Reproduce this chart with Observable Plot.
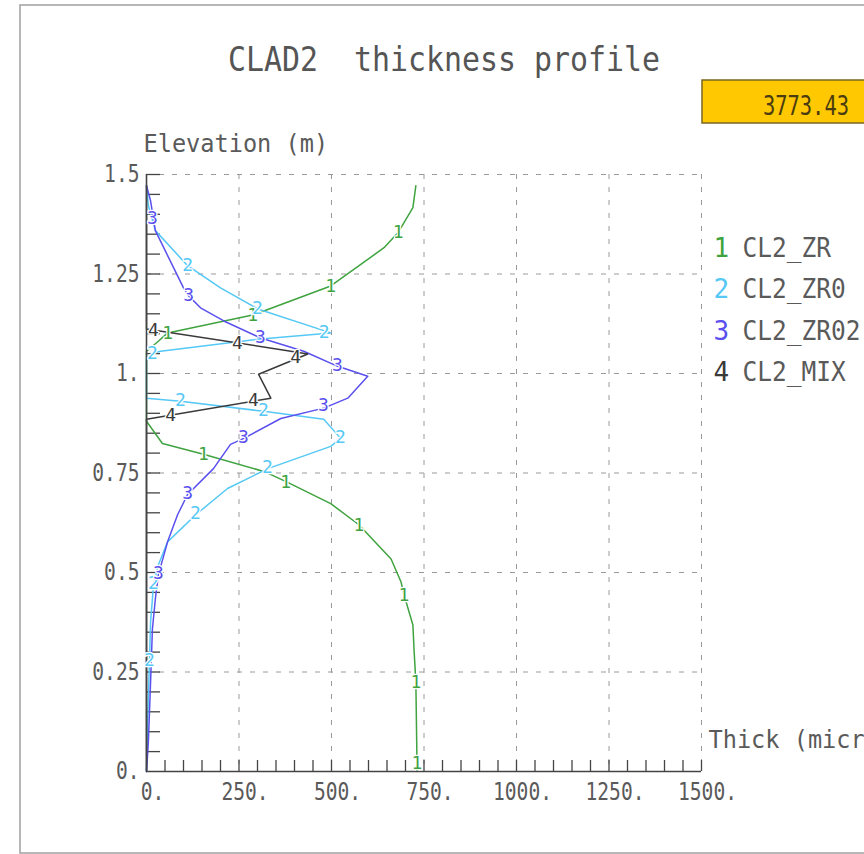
<!DOCTYPE html>
<html>
<head>
<meta charset="utf-8">
<script src="https://cdn.jsdelivr.net/npm/d3@7"></script>
<script src="https://cdn.jsdelivr.net/npm/@observablehq/plot@0.6"></script>
<style>
html, body { margin: 0; padding: 0; overflow: hidden; background: #fff; }
#chart svg { overflow: hidden; display: block; }
</style>
</head>
<body>
<div id="chart"></div>
<script>
// ---------- data ----------
const seriesNames = ["CL2_ZR", "CL2_ZR0", "CL2_ZR02", "CL2_MIX"];
const seriesNums = ["1", "2", "3", "4"];
const seriesColors = ["#3fa33f", "#55c8f5", "#5a50ee", "#3a3a3a"];

// thickness (microns) vs elevation (m)
const zrThick = [728, 720, 680, 642, 498, 317, 287, 57, 32, 0, 0, 43, 154, 317, 376, 498, 574, 661, 688, 696, 720, 723, 728, 731, 731];
const zrElev  = [1.472, 1.417, 1.354, 1.316, 1.220, 1.157, 1.147, 1.102, 1.081, 1.056, 0.880, 0.824, 0.797, 0.754, 0.729, 0.673, 0.620, 0.534, 0.476, 0.444, 0.368, 0.308, 0.224, 0.023, 0.0];

const zr0Thick = [0, 5, 24, 111, 200, 301, 498, 301, 38, 16, 0, 0, 92, 317, 479, 525, 498, 328, 219, 133, 57, 32, 19, 11, 8, 3, 0];
const zr0Elev  = [1.472, 1.422, 1.359, 1.271, 1.215, 1.162, 1.102, 1.086, 1.056, 1.051, 1.036, 0.938, 0.930, 0.905, 0.885, 0.837, 0.817, 0.761, 0.711, 0.645, 0.577, 0.519, 0.469, 0.376, 0.275, 0.124, 0.0];

const zr02Thick = [0, 11, 24, 100, 114, 146, 209, 309, 425, 517, 598, 544, 479, 363, 263, 227, 181, 111, 84, 57, 32, 24, 16, 11, 5, 0];
const zr02Elev  = [1.472, 1.434, 1.359, 1.215, 1.195, 1.165, 1.132, 1.089, 1.056, 1.018, 0.993, 0.938, 0.913, 0.887, 0.837, 0.822, 0.761, 0.696, 0.645, 0.577, 0.494, 0.434, 0.358, 0.224, 0.073, 0.0];

const mixThick = [0, 0, 390, 436, 303, 336, 0, 0];
const mixElev  = [1.472, 1.112, 1.056, 1.049, 0.998, 0.938, 0.885, 0.0];

// curve-number labels along each line
const zrLabThick  = [680, 498, 287, 57, 154, 376, 574, 696, 728, 731];
const zrLabElev   = [1.354, 1.220, 1.147, 1.100, 0.797, 0.727, 0.620, 0.444, 0.224, 0.020];
const zr0LabThick = [111, 300, 480, 16, 92, 316, 524, 327, 132, 19, 8];
const zr0LabElev  = [1.271, 1.163, 1.103, 1.052, 0.932, 0.907, 0.839, 0.764, 0.648, 0.472, 0.279];
const zr02LabThick = [16, 114, 308, 516, 478, 262, 111, 32];
const zr02LabElev  = [1.389, 1.196, 1.090, 1.020, 0.920, 0.839, 0.698, 0.497];
const mixLabThick = [19, 246, 403, 289, 65];
const mixLabElev  = [1.108, 1.075, 1.040, 0.932, 0.894];

const xMajor = [0, 250, 500, 750, 1000, 1250, 1500];
const yMajor = [0, 0.25, 0.5, 0.75, 1, 1.25, 1.5];
const xMinor = d3.range(50, 1501, 50);
const yMinor = d3.range(1, 31).map(i => +(i * 0.05).toFixed(2));

const titleText = "CLAD2  thickness profile";
const yTitle = "Elevation (m)";
const xTitle = "Thick (microns)";
const boxValue = "3773.43";

// ---------- tables ----------
const thickArrays = [zrThick, zr0Thick, zr02Thick, mixThick];
const elevArrays = [zrElev, zr0Elev, zr02Elev, mixElev];
const labThick = [zrLabThick, zr0LabThick, zr02LabThick, mixLabThick];
const labElev = [zrLabElev, zr0LabElev, zr02LabElev, mixLabElev];

const lineRows = seriesNames.flatMap((s, i) =>
  thickArrays[i].map((t, j) => ({series: s, thick: t, elev: elevArrays[i][j]})));
const labelRows = seriesNames.flatMap((s, i) =>
  labThick[i].map((t, j) => ({series: s, num: seriesNums[i], thick: t, elev: labElev[i][j]})));

// ---------- layout ----------
const W = 864, H = 854;
const mL = 146, mR = 163, mT = 174, mB = 83;
const plotW = W - mL - mR, plotH = H - mT - mB;
const textGray = "#5a5a5a";
const font = "DejaVu Sans Mono";
const fmt = d => Number.isInteger(d) ? d + "." : String(d);

const legendMarks = seriesNames.flatMap((s, i) => [
  Plot.text([seriesNums[i]], {frameAnchor: "top-right", textAnchor: "start", lineAnchor: "middle",
    dx: 12, dy: 74 + i * 41.5, fill: seriesColors[i], fontSize: 26}),
  Plot.text([s], {frameAnchor: "top-right", textAnchor: "start", lineAnchor: "middle",
    dx: 41, dy: 74 + i * 41.5, fill: textGray, fontSize: 26})
]);

const chart = Plot.plot({
  width: W, height: H,
  marginLeft: mL, marginRight: mR, marginTop: mT, marginBottom: mB,
  style: {fontFamily: font, color: textGray, background: "white"},
  x: {domain: [0, 1500]},
  y: {domain: [0, 1.5]},
  color: {domain: seriesNames, range: seriesColors},
  marks: [
    Plot.gridX(xMajor.slice(1), {stroke: "#9a9a9a", strokeOpacity: 1, strokeDasharray: "5,8"}),
    Plot.gridY(yMajor.slice(1), {stroke: "#9a9a9a", strokeOpacity: 1, strokeDasharray: "5,8"}),
    Plot.tickX(xMinor, {x: d => d, insetTop: plotH - 11, stroke: "#444", strokeWidth: 1.3}),
    Plot.tickY(yMinor, {y: d => d, insetRight: plotW - 14, stroke: "#444", strokeWidth: 1.3}),
    ...seriesNames.map((s, i) =>
      Plot.line(lineRows.filter(r => r.series === s), {x: "thick", y: "elev", stroke: seriesColors[i], strokeWidth: 1.5})),
    Plot.ruleX([0], {stroke: "#444", strokeWidth: 1.6}),
    Plot.ruleY([0], {stroke: "#444", strokeWidth: 1.6}),
    Plot.text(labelRows, {x: "thick", y: "elev", text: "num", fill: "series", fontSize: 18,
      stroke: "white", strokeWidth: 2.5, paintOrder: "stroke"}),
    Plot.axisX(xMajor, {tickSize: 0, tickPadding: 11, fontSize: 24, dx: 6, tickFormat: fmt, label: null}),
    Plot.axisY(yMajor, {tickSize: 0, tickPadding: 7, fontSize: 24, tickFormat: fmt, label: null}),
    Plot.text([titleText], {frameAnchor: "top", lineAnchor: "middle", dx: 20, dy: -114, fontSize: 33, fill: "#555"}),
    Plot.text([yTitle], {frameAnchor: "top-left", textAnchor: "start", lineAnchor: "middle", dx: -3, dy: -30, fontSize: 24, fill: textGray}),
    Plot.text([xTitle], {frameAnchor: "bottom-right", textAnchor: "start", lineAnchor: "middle", dx: 7, dy: -31, fontSize: 24, fill: textGray}),
    ...legendMarks
  ]
});

// condense monospace text to mimic the narrow stroke font
const svg = d3.select(chart);
function condenseWhere(test, pitch) {
  svg.selectAll("text").filter(function () { return test(this.textContent); }).each(function () {
    const n = this.textContent.length;
    this.setAttribute("textLength", n * pitch);
    this.setAttribute("lengthAdjust", "spacingAndGlyphs");
  });
}
const xTickStrs = xMajor.map(fmt), yTickStrs = yMajor.map(fmt);
condenseWhere(t => xTickStrs.includes(t) || yTickStrs.includes(t), 11.8);
condenseWhere(t => t === titleText, 18);
condenseWhere(t => t === yTitle || t === xTitle, 14.2);
condenseWhere(t => seriesNames.includes(t), 14.75);

// outer panel border and value box
svg.insert("rect", ":first-child")
  .attr("x", 20).attr("y", 5).attr("width", 900).attr("height", 848)
  .attr("fill", "white").attr("stroke", "#a0a0a0").attr("stroke-width", 1.5);
svg.append("rect")
  .attr("x", 702).attr("y", 80).attr("width", 200).attr("height", 43)
  .attr("fill", "#ffc800").attr("stroke", "#7a6520").attr("stroke-width", 1.5);
svg.append("text")
  .attr("x", 849).attr("y", 115).attr("text-anchor", "end")
  .attr("font-family", font).attr("font-size", 27).attr("fill", "#4a3c10")
  .attr("textLength", boxValue.length * 12.3).attr("lengthAdjust", "spacingAndGlyphs")
  .text(boxValue);

document.getElementById("chart").appendChild(chart);
</script>
</body>
</html>
